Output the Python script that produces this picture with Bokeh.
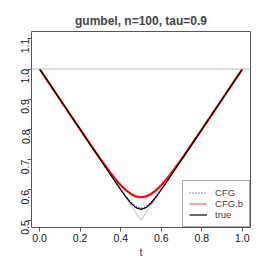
from math import pi
from bokeh.plotting import figure
from bokeh.models import Range1d, FixedTicker, Legend, LegendItem, Label, Span
from bokeh.embed import file_html
from bokeh.resources import INLINE

# grid of t values
t = [0.0, 0.05, 0.1, 0.15, 0.2, 0.25, 0.3, 0.35, 0.375, 0.4, 0.425, 0.45, 0.475, 0.5,
     0.525, 0.55, 0.575, 0.6, 0.625, 0.65, 0.7, 0.75, 0.8, 0.85, 0.9, 0.95, 1.0]
# true Pickands function
true_A = [1.0, 0.950, 0.900, 0.850, 0.800, 0.750, 0.7001, 0.6501, 0.6254, 0.6010, 0.5777, 0.5570, 0.5417, 0.5359,
          0.5417, 0.5570, 0.5777, 0.6010, 0.6254, 0.6501, 0.7001, 0.750, 0.800, 0.850, 0.900, 0.950, 1.0]
# CFG estimate
cfg = [1.0, 0.950, 0.900, 0.850, 0.800, 0.750, 0.7003, 0.6508, 0.6265, 0.6025, 0.5797, 0.5595, 0.5448, 0.5395,
       0.5448, 0.5595, 0.5797, 0.6025, 0.6265, 0.6508, 0.7003, 0.750, 0.800, 0.850, 0.900, 0.950, 1.0]
# CFG.b estimate
cfgb = [1.0, 0.950, 0.900, 0.8500, 0.8002, 0.7507, 0.7022, 0.6563, 0.6351, 0.6159, 0.5995, 0.5869, 0.5788, 0.5760,
        0.5788, 0.5869, 0.5995, 0.6159, 0.6351, 0.6563, 0.7022, 0.7507, 0.8002, 0.8500, 0.900, 0.950, 1.0]
# lower bound max(t, 1-t)
lb_t = [0.0, 0.5, 1.0]
lb_A = [1.0, 0.5, 1.0]

x_ticks = [0.0, 0.2, 0.4, 0.6, 0.8, 1.0]
y_ticks = [0.5, 0.6, 0.7, 0.8, 0.9, 1.0, 1.1]
title = "gumbel, n=100, tau=0.9"
labels = ["CFG", "CFG.b", "true"]

FONT = "Liberation Sans"

p = figure(width=258, height=262, output_backend="svg", toolbar_location=None,
           x_range=Range1d(-0.04, 1.04), y_range=Range1d(0.476, 1.124),
           min_border_left=31, min_border_right=8, min_border_top=31, min_border_bottom=35,
           title=title)
p.title.align = "center"
p.title.text_font = FONT
p.title.text_font_size = "12px"
p.title.text_font_style = "bold"
p.title.offset = 0
p.title.standoff = 8

p.grid.visible = False
p.outline_line_color = "#555555"
p.outline_line_width = 1

for ax in (p.xaxis[0], p.yaxis[0]):
    ax.axis_line_color = None
    ax.major_tick_line_color = "#555555"
    ax.major_tick_out = 4
    ax.major_tick_in = 0
    ax.minor_tick_line_color = None
    ax.major_label_text_font = FONT
    ax.major_label_text_font_size = "10.5px"
    ax.major_label_text_color = "#111111"

p.xaxis.ticker = FixedTicker(ticks=x_ticks)
p.yaxis.ticker = FixedTicker(ticks=y_ticks)
p.xaxis.major_label_overrides = {v: f"{v:.1f}" for v in x_ticks}
p.yaxis.major_label_overrides = {v: f"{v:.1f}" for v in y_ticks}
p.xaxis.major_label_standoff = 2
p.yaxis.major_label_standoff = 2
p.yaxis.major_label_orientation = pi / 2
p.xaxis.axis_label = "t"
p.xaxis.axis_label_text_font = FONT
p.xaxis.axis_label_text_font_size = "11px"
p.xaxis.axis_label_text_font_style = "normal"
p.xaxis.axis_label_standoff = 1

p.add_layout(Label(x=-25, y=0.823, x_units="screen", y_units="data", text="A(t)", angle=pi / 2,
                   text_align="center", text_baseline="middle", text_font=FONT,
                   text_font_size="11px", text_color="#111111"))

p.add_layout(Span(location=1.0, dimension="width", line_color="#BBBBBB", line_width=1))
p.line(lb_t, lb_A, line_color="#BBBBBB", line_width=1)

r_cfg = p.line(t, cfg, line_color="blue", line_width=1.2, line_dash="1 2")
# thin red line underneath the thick one (used for the legend sample)
r_cfgb_thin = p.line(t, cfgb, line_color="#ff4444", line_width=1)
p.line(t, cfgb, line_color="red", line_width=2.2)
r_true = p.line(t, true_A, line_color="black", line_width=1.2)

legend = Legend(items=[LegendItem(label=labels[0], renderers=[r_cfg]),
                       LegendItem(label=labels[1], renderers=[r_cfgb_thin]),
                       LegendItem(label=labels[2], renderers=[r_true])],
                location="bottom_right", margin=0, padding=6, spacing=0,
                glyph_width=18, glyph_height=11, label_height=11, label_standoff=8,
                label_text_font=FONT, label_text_font_size="9.5px",
                border_line_color="#555555", background_fill_alpha=1.0)
p.add_layout(legend)

open("out.html", "w").write(file_html(p, INLINE))
